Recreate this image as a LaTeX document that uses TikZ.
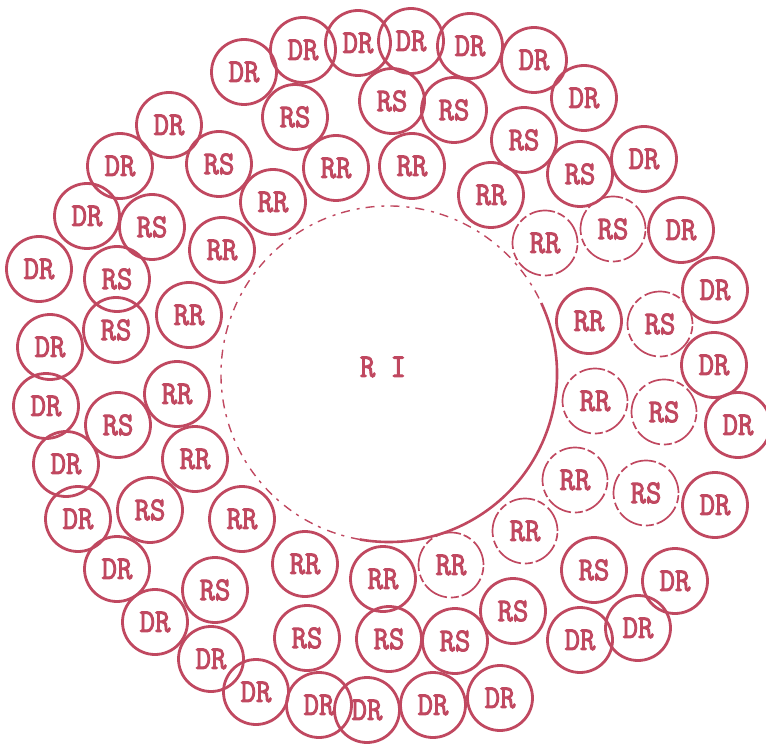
\documentclass[tikz,border=0pt]{standalone}
\usepackage{fontspec}
\newfontfamily\stampfont[FakeBold=3]{Latin Modern Mono}
\definecolor{stamp}{RGB}{192,72,96}
\newcommand\stamptext[1]{\scalebox{1.03}[1.14]{#1}}
\begin{document}
\begin{tikzpicture}[x=1pt,y=-1pt,
  stampc/.style={circle,draw=stamp,line width=2.8pt,minimum size=65pt,inner sep=0pt,outer sep=0pt,
    text=stamp,font=\stampfont\fontsize{29}{29}\selectfont},
  faintc/.style={stampc,line width=1.7pt,dash pattern=on 26pt off 4pt on 8pt off 3pt},
  bigc/.style={circle,minimum size=336pt,inner sep=0pt,outer sep=0pt}]
\useasboundingbox (0,0) rectangle (766,746);
% inner large circle
\node[bigc] (ri) at (389,374) {};
\node[text=stamp,font=\stampfont\fontsize{29}{29}\selectfont] (ritext) at (383,367) {\stamptext{R I}};
\draw[stamp,line width=2.6pt] (ri.25) arc[start angle=-25, end angle=100, radius=168];
\draw[stamp,line width=1.4pt,dash pattern=on 9pt off 7pt on 3pt off 6pt] (ri.-100) arc[start angle=100, end angle=335, radius=168];
% DR ring
\foreach \x/\y [count=\i] in {244/72,303/50,358/43,411/41,470/46,534/60,584/98,169/125,120/166,87/216,39/269,50/347,46/406,66/464,78/519,117/569,155/622,211/659,256/692,319/705,367/710,433/705,500/698,580/640,638/628,675/581,715/505,738/425,714/365,715/290,681/230,644/159}
  \node[stampc] (d\i) at (\x,\y) {\stamptext{DR}};
% RS solid
\foreach \x/\y [count=\i] in {295/117,392/101,454/110,524/140,580/174,594/570,513/611,455/641,389/639,307/638,215/590,150/510,118/425,116/330,117/279,152/227,219/164}
  \node[stampc] (s\i) at (\x,\y) {\stamptext{RS}};
% RS faint
\foreach \x/\y [count=\i] in {613/229,660/324,664/412,646/493}
  \node[faintc] (sf\i) at (\x,\y) {\stamptext{RS}};
% RR solid
\foreach \x/\y [count=\i] in {273/202,336/168,412/166,491/195,589/321,383/579,305/564,242/519,195/459,177/394,189/315,222/250}
  \node[stampc] (r\i) at (\x,\y) {\stamptext{RR}};
% RR faint
\foreach \x/\y [count=\i] in {545/243,595/401,575/480,525/531,451/565}
  \node[faintc] (rf\i) at (\x,\y) {\stamptext{RR}};
\end{tikzpicture}
\end{document}
